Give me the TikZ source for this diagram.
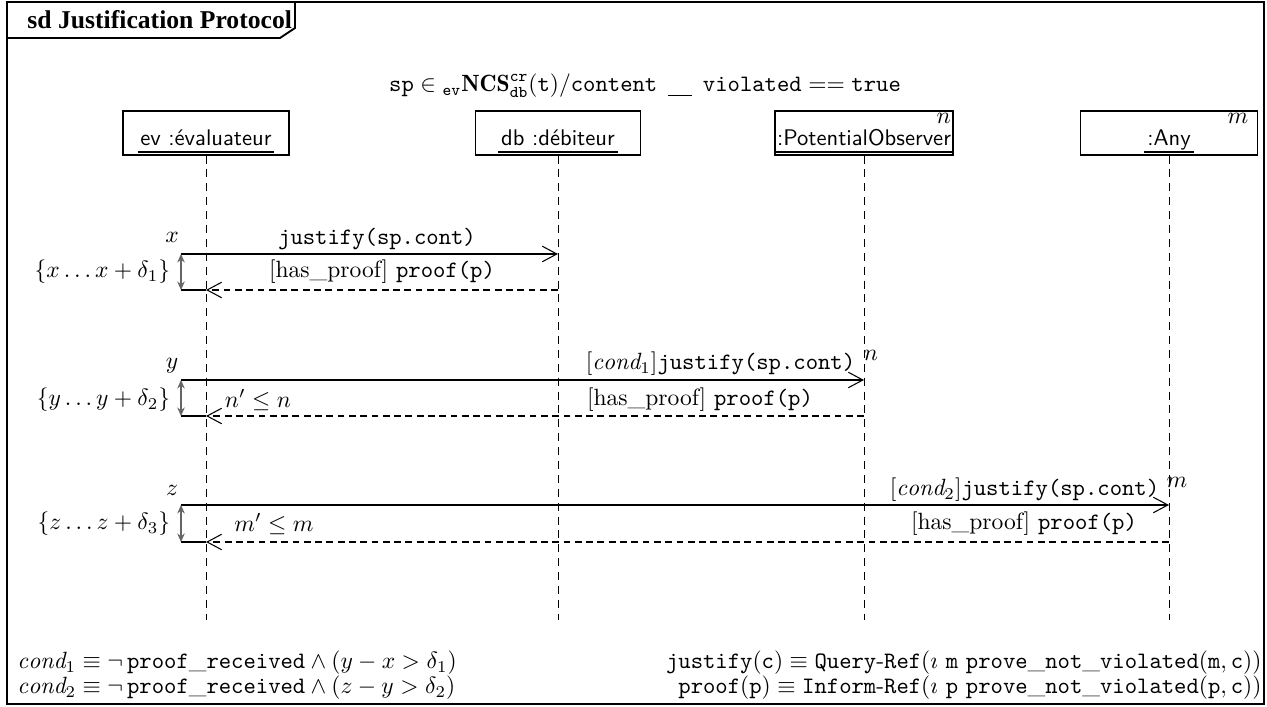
\documentclass[tikz,border=0pt]{standalone}
\usepackage{fontspec}
\newfontfamily\titlefont{Liberation Serif}
\usetikzlibrary{arrows.meta}
\begin{document}
\begin{tikzpicture}[x=0.425pt,y=-0.425pt,
  frameline/.style={line width=0.8pt},
  lifebox/.style={draw,line width=0.5pt,minimum width=#1*0.425pt,minimum height=44*0.425pt,inner sep=0pt},
  lifename/.style={font=\sffamily\fontsize{9.6}{11}\selectfont,inner sep=1pt,anchor=base},
  lifeline/.style={line width=0.4pt,dash pattern=on 3.4pt off 2.5pt},
  msg/.style={line width=0.45pt,-{Straight Barb[length=6.2pt,width=6.6pt,line width=0.45pt]}},
  reply/.style={line width=0.45pt,dash pattern=on 2.9pt off 1.9pt,-{Straight Barb[length=6.2pt,width=6.6pt,line width=0.45pt]}},
  tick/.style={line width=0.45pt},
  bracket/.style={line width=0.5pt,draw=black!60,{Stealth[length=3.6pt,width=3.2pt]}-{Stealth[length=3.6pt,width=3.2pt]}},
  lbl/.style={inner sep=1pt},
  foot/.style={inner sep=0pt}]
\useasboundingbox (0,0) rectangle (1267,707);
% frame
\draw[frameline] (7,2) rectangle (1264,704);
\node[anchor=west,inner sep=0pt,font=\titlefont\bfseries\fontsize{10.9}{13}\selectfont] (title) at (27,20) {sd Justification Protocol};
\draw[frameline] (7,38) -- (280,38) -- (295,28) -- (295,2);
% guard
\node[lbl] (guard) at (645,86) {$\mathtt{sp}\in{}_{\mathtt{ev}}\mathbf{NCS}^{\mathtt{cr}}_{\mathtt{db}}(\mathtt{t})/\mathtt{content}\;\,\underline{\hphantom{\mathtt{xx}}}\;\,\mathtt{violated}==\mathtt{true}$};
% lifeline boxes
\node[lifebox=166] (ev) at (206,133) {};
\node[lifebox=165] (db) at (558,133) {};
\node[lifebox=178] (po) at (864,133) {};
\node[lifebox=177] (any) at (1169,133) {};
\node[lifename] (evn) at (206,146) {ev :évaluateur};
\node[lifename] (dbn) at (558,146) {db :débiteur};
\node[lifename] (pon) at (864,146) {:PotentialObserver};
\node[lifename] (anyn) at (1169,146) {:Any};
\foreach \n in {evn,dbn,pon,anyn}
  \draw[line width=0.7pt] ([yshift=-2.5pt]\n.base west) -- ([yshift=-2.5pt]\n.base east);
\node[anchor=north east,inner sep=1pt] (pomult) at (po.north east) {$n$};
\node[anchor=north east,inner sep=1pt] (anymult) at ([xshift=-3pt]any.north east) {$m$};
% lifelines
\coordinate (evl) at (206,620);
\coordinate (dbl) at (558,620);
\coordinate (pol) at (864,620);
\coordinate (anyl) at (1169,620);
\draw[lifeline] (ev.south) -- (evl);
\draw[lifeline] (db.south) -- (dbl);
\draw[lifeline] (po.south) -- (pol);
\draw[lifeline] (any.south) -- (anyl);
% block 1
\coordinate (b1t) at (181,254);
\coordinate (b1b) at (181,290);
\draw[msg] (b1t) -- (b1t -| dbl);
\draw[reply] (b1b -| dbl) -- (b1b -| evl);
\draw[tick] (b1b) -- (b1b -| evl);
\draw[bracket] (b1t) -- (b1b);
\node[lbl] (m1) at (377,239) {\texttt{justify(sp.cont)}};
\node[lbl] (r1) at (382,272) {[has\_proof] \texttt{proof(p)}};
\node[lbl] (x) at (172,237) {$x$};
\node[lbl,anchor=east] (bx) at (173,272) {$\{x\ldots x+\delta_1\}$};
% block 2
\coordinate (b2t) at (181,380);
\coordinate (b2b) at (181,416);
\draw[msg] (b2t) -- (b2t -| pol);
\draw[reply] (b2b -| pol) -- (b2b -| evl);
\draw[tick] (b2b) -- (b2b -| evl);
\draw[bracket] (b2t) -- (b2b);
\node[lbl,anchor=east] (m2) at (858,364) {$[\mathit{cond}_1]$\texttt{justify(sp.cont)}};
\node[lbl] (m2n) at (871,355) {$n$};
\node[lbl] (r2) at (700,400) {[has\_proof] \texttt{proof(p)}};
\node[lbl] (r2c) at (258,400) {$n'\leq n$};
\node[lbl] (y) at (172,366) {$y$};
\node[lbl,anchor=east] (by) at (173,400) {$\{y\ldots y+\delta_2\}$};
% block 3
\coordinate (b3t) at (181,505);
\coordinate (b3b) at (181,542);
\draw[msg] (b3t) -- (b3t -| anyl);
\draw[reply] (b3b -| anyl) -- (b3b -| evl);
\draw[tick] (b3b) -- (b3b -| evl);
\draw[bracket] (b3t) -- (b3b);
\node[lbl,anchor=east] (m3) at (1162,490) {$[\mathit{cond}_2]$\texttt{justify(sp.cont)}};
\node[lbl] (m3m) at (1177,482) {$m$};
\node[lbl] (r3) at (1024,524) {[has\_proof] \texttt{proof(p)}};
\node[lbl] (r3c) at (274,524) {$m'\leq m$};
\node[lbl] (z) at (172,490) {$z$};
\node[lbl,anchor=east] (bz) at (173,524) {$\{z\ldots z+\delta_3\}$};
% footer definitions
\node[foot,anchor=west,align=left] (conds) at (17,675.5) {$\mathit{cond}_1\equiv\neg\,\mathtt{proof\_received}\wedge(y-x>\delta_1)$\\[-1.4pt]
  $\mathit{cond}_2\equiv\neg\,\mathtt{proof\_received}\wedge(z-y>\delta_2)$};
\node[foot,anchor=east,align=right] (defs) at (1262,675.5) {$\mathtt{justify(c)}\equiv\mathtt{Query\mbox{-}Ref}(\imath\ \mathtt{m}\ \mathtt{prove\_not\_violated(m,c)})$\\[-1.4pt]
  $\mathtt{proof(p)}\equiv\mathtt{Inform\mbox{-}Ref}(\imath\ \mathtt{p}\ \mathtt{prove\_not\_violated(p,c)})$};
\end{tikzpicture}
\end{document}
